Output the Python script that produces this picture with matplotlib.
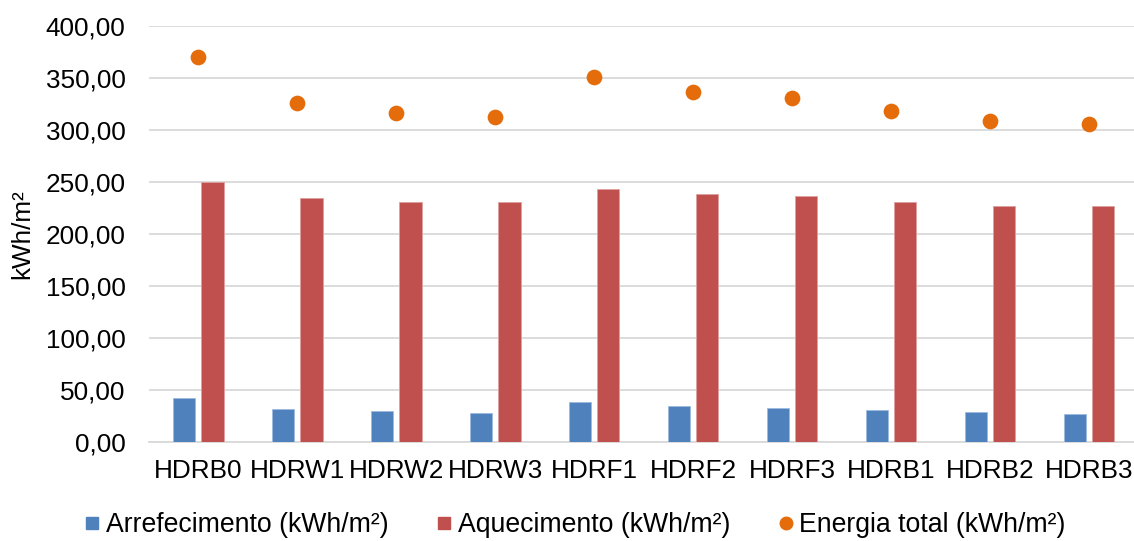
import matplotlib
matplotlib.use("Agg")
import matplotlib.pyplot as plt
from matplotlib.lines import Line2D
import numpy as np

categories = ["HDRB0", "HDRW1", "HDRW2", "HDRW3", "HDRF1", "HDRF2", "HDRF3", "HDRB1", "HDRB2", "HDRB3"]
arrefecimento = [42.7, 32.1, 29.5, 27.6, 38.5, 34.6, 32.7, 31.1, 28.6, 27.3]
aquecimento = [249.7, 234.3, 231.0, 231.0, 243.0, 238.1, 236.5, 230.8, 226.6, 226.6]
energia_total = [369.9, 325.6, 316.0, 312.8, 351.3, 336.5, 330.8, 318.6, 308.7, 305.8]
yticks = [0, 50, 100, 150, 200, 250, 300, 350, 400]
ytick_labels = ["0,00", "50,00", "100,00", "150,00", "200,00", "250,00", "300,00", "350,00", "400,00"]
series_names = ["Arrefecimento (kWh/m²)", "Aquecimento (kWh/m²)", "Energia total (kWh/m²)"]

c_blue = "#4F81BD"
c_red = "#C0504D"
c_orange = "#E46C0A"

plt.rcParams['font.family'] = ['Liberation Sans', 'DejaVu Sans']
FS = 18.8

W, H = 1134, 541
fig = plt.figure(figsize=(W / 100, H / 100), dpi=100)
ax = fig.add_axes([149 / W, (H - 442) / H, (W - 149) / W, (442 - 26) / H])

x = np.arange(len(categories))
bw = 0.225
off = 0.143
ax.bar(x - off, arrefecimento, bw, color=c_blue, edgecolor="#9dbbe0", linewidth=0.6, zorder=3)
ax.bar(x + off, aquecimento, bw, color=c_red, edgecolor="#e0a0a0", linewidth=0.6, zorder=3)
ax.scatter(x, energia_total, s=128, color=c_orange, zorder=4, linewidths=0)

ax.set_ylim(0, 400)
ax.set_xlim(-0.5, 9.457)
ax.set_yticks(yticks)
ax.set_yticklabels(ytick_labels)
ax.set_xticks(x)
ax.set_xticklabels(categories)
ax.tick_params(axis='both', length=0, labelsize=FS, colors="#000000")
ax.tick_params(axis='y', pad=17)
ax.tick_params(axis='x', pad=12)
ax.grid(axis='y', color="#d9d9d9", linewidth=1.3, zorder=0)
ax.set_axisbelow(True)
for s in ["top", "right", "left"]:
    ax.spines[s].set_visible(False)
ax.spines["bottom"].set_color("#d9d9d9")
ax.spines["bottom"].set_linewidth(1.3)

ax.set_ylabel("kWh/m²", fontsize=FS)
ax.yaxis.set_label_coords(-0.117, 0.5)

handles = [
    Line2D([], [], marker='s', linestyle='none', markersize=8, color=c_blue),
    Line2D([], [], marker='s', linestyle='none', markersize=8, color=c_red),
    Line2D([], [], marker='o', linestyle='none', markersize=9, color=c_orange),
]
fig.legend(handles, series_names, loc='center', bbox_to_anchor=(575 / W, (H - 525) / H), ncol=3,
           frameon=False, fontsize=19.2, handlelength=0.6, handletextpad=0.2, columnspacing=1.8,
           borderpad=0, borderaxespad=0)

fig.savefig("out.png", dpi=100, facecolor="white")
